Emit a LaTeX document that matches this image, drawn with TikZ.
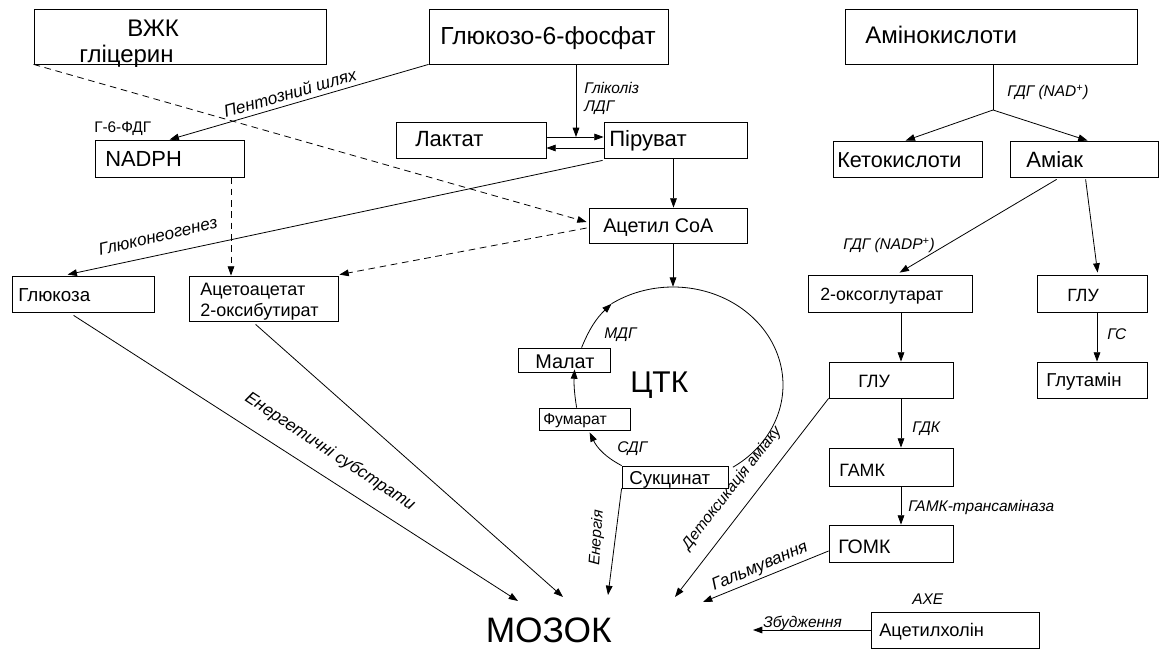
\documentclass[tikz,border=0pt]{standalone}
\usepackage{fontspec}
\setmainfont{Liberation Sans}
\usetikzlibrary{arrows.meta,fit,calc,shapes.geometric}
\newcommand{\myfs}[1]{\fontsize{#1}{#1}\selectfont}
\tikzset{
 box/.style={draw, line width=0.6pt, inner sep=0pt},
 ln/.style={line width=0.6pt},
 arr/.style={line width=0.6pt, -{Triangle[length=7pt,width=5pt]}},
 dsh/.style={arr, dash pattern=on 5pt off 3.5pt},
 txt/.style={inner sep=0pt, anchor=base west},
 lbl/.style={inner sep=0pt, anchor=base west, font=\myfs{11.6}\itshape},
 rlbl/.style={inner sep=0pt, font=\myfs{12.8}\itshape},
}
\begin{document}
\begin{tikzpicture}[x=0.75pt,y=-0.75pt]
\useasboundingbox (0,0) rectangle (1160,655);
% boxes
\node[box, fit={(34,9)(326,64)}] (vzhk) {};
\node[box, fit={(429,9)(668,64)}] (gluk6f) {};
\node[box, fit={(845,9)(1137,64)}] (amino) {};
\node[box, fit={(95,140)(244,177)}] (nadph) {};
\node[box, fit={(396,122)(546,158)}] (laktat) {};
\node[box, fit={(604,122)(747,158)}] (piruvat) {};
\node[box, fit={(589,208)(747,243)}] (acetyl) {};
\node[box, fit={(833,141)(982,177)}] (keto) {};
\node[box, fit={(1010,141)(1158,177)}] (amiak) {};
\node[box, fit={(12,276)(154,312)}] (glukoza) {};
\node[box, fit={(189,276)(338,321)}] (acetoac) {};
\node[box, fit={(808,275)(972,312)}] (oxoglut) {};
\node[box, fit={(1037,275)(1147,312)}] (glur) {};
\node[box, fit={(1037,362)(1147,398)}] (glutamin) {};
\node[box, fit={(829,362)(953,398)}] (glum) {};
\node[box, fit={(829,448)(953,486)}] (gamk) {};
\node[box, fit={(829,525)(953,562)}] (gomk) {};
\node[box, fit={(871,612)(1039,648)}] (achol) {};
\node[box, fit={(518,348)(610,372)}] (malat) {};
\node[box, fit={(539,408)(630,430)}] (fumarat) {};
\node[box, fit={(622,466)(728,488)}] (sukcinat) {};
\node[ellipse, minimum width=165pt, minimum height=147pt, inner sep=0pt] (tca) at (673,385) {};
% box texts
\node[txt, font=\myfs{18}] (t1) at (127,37) {ВЖК};
\node[txt, font=\myfs{18}] (t2) at (79,63) {гліцерин};
\node[txt, font=\myfs{18.5}] (t3) at (440,45) {Глюкозо-6-фосфат};
\node[txt, font=\myfs{18}] (t4) at (865,44) {Амінокислоти};
\node[txt, font=\myfs{16.4}] (t5) at (105,167) {NADPH};
\node[txt, font=\myfs{11.5}] (t6) at (94,133) {Г-6-ФДГ};
\node[txt, font=\myfs{16.5}] (t7) at (415,147) {Лактат};
\node[txt, font=\myfs{16.6}] (t8) at (609,147) {Піруват};
\node[txt, font=\myfs{14.8}] (t9) at (603,233) {Ацетил CoA};
\node[txt, font=\myfs{16.2}] (t10) at (837,168) {Кетокислоти};
\node[txt, font=\myfs{16.6}] (t11) at (1026,168) {Аміак};
\node[txt, font=\myfs{13.3}] (t12) at (820,301) {2-оксоглутарат};
\node[txt, font=\myfs{13.3}] (t13) at (1067,302) {ГЛУ};
\node[txt, font=\myfs{14}] (t14) at (1046,387) {Глутамін};
\node[txt, font=\myfs{13.4}] (t15) at (858,388) {ГЛУ};
\node[txt, font=\myfs{13.4}] (t16) at (839,477) {ГАМК};
\node[txt, font=\myfs{14.6}] (t17) at (838,553) {ГОМК};
\node[txt, font=\myfs{13.7}] (t18) at (879,636) {Ацетилхолін};
\node[txt, font=\myfs{14.9}] (t19) at (535,369) {Малат};
\node[txt, font=\myfs{11.8}] (t20) at (543,425) {Фумарат};
\node[txt, font=\myfs{14}] (t21) at (629,484) {Сукцинат};
\node[txt, font=\myfs{14.1}] (t22) at (18,302) {Глюкоза};
\node[txt, font=\myfs{13.5}] (t23) at (200,296) {Ацетоацетат};
\node[txt, font=\myfs{13.5}] (t24) at (200,317) {2-оксибутират};
\node[txt, font=\myfs{22.5}] (t25) at (630,393) {ЦТК};
\node[inner sep=0pt, anchor=base east, font=\myfs{26.5}] (brain) at (612,642) {МОЗОК};
% small labels
\node[lbl] (l1) at (584,94) {Гліколіз};
\node[lbl] (l2) at (584,112) {ЛДГ};
\node[lbl] (l3) at (1007,97) {ГДГ (NAD\textsuperscript{+})};
\node[lbl] (l4) at (843,250) {ГДГ (NADP\textsuperscript{+})};
\node[lbl] (l5) at (1107,340) {ГС};
\node[lbl] (l6) at (912,433) {ГДК};
\node[lbl] (l7) at (908,512) {ГАМК-трансаміназа};
\node[lbl] (l8) at (912,604) {АХЕ};
\node[lbl] (l9) at (763,627) {Збудження};
\node[lbl] (l10) at (604,339) {МДГ};
\node[lbl] (l11) at (617,453) {СДГ};
\node[rlbl, rotate=16] (r1) at (290,93) {Пентозний шлях};
\node[rlbl, rotate=13] (r2) at (158,236) {Глюконеогенез};
\node[rlbl, rotate=-33.5] (r3) at (330,452) {Енергетичні субстрати};
\node[rlbl, rotate=52, font=\myfs{11.6}\itshape] (r4) at (732,488) {Детоксикація аміаку};
\node[rlbl, rotate=23] (r5) at (760,567) {Гальмування};
\node[rlbl, rotate=86, font=\myfs{11.6}\itshape] (r6) at (597,538) {Енергія};
% coordinates
\coordinate (glyc) at (576,137);
\coordinate (back) at (0,148);
\coordinate (pa) at ($(piruvat.south)+(-2,0)$);
\coordinate (xd) at (231,0);
\coordinate (br) at (993,110);
\coordinate (xg) at (1097,0);
\coordinate (xm) at (901,0);
\coordinate (m1) at (703,602);
\coordinate (m2) at (753,630);
\coordinate (m3) at (675,597);
\coordinate (m4) at (608,595);
\coordinate (m5) at (518,601);
\coordinate (m6) at (563,597);
\coordinate (mdg) at (611.5,303.8);
% connectors
\draw[arr] (gluk6f.south west) -- ($(nadph.north west)+(75,0)$);
\draw[arr] (gluk6f.south -| glyc) -- (glyc);
\draw[arr] (laktat.east |- glyc) -- (piruvat.west |- glyc);
\draw[arr] (piruvat.west |- back) -- (laktat.east |- back);
\draw[arr] (pa) -- (pa |- acetyl.north);
\draw[arr] ($(piruvat.south west)+(-1,2)$) -- ($(glukoza.north west)+(56,-1)$);
\draw[dsh] (vzhk.south west) -- ($(acetyl.west)+(-2,-3.5)$);
\draw[dsh] ($(acetyl.west)+(-2,2.5)$) -- ($(acetoac.north east)+(1,-1)$);
\draw[dsh] (nadph.south -| xd) -- (acetoac.north -| xd);
\draw[arr] (acetyl.south -| tca.north) -- (tca.north);
% cycle
\draw[ln] plot[domain=124:-57, samples=90, smooth] ({673+110*cos(\x)},{385-98*sin(\x)});
\draw[arr] ($(malat.north west)+(64,0)$) to[bend left=12] (mdg);
\draw[arr] ($(fumarat.north west)+(38,0)$) to[bend left=6] ($(malat.south west)+(57,-3)$);
\draw[arr] (sukcinat.north west) to[bend left=18] ($(fumarat.south west)+(51,2)$);
% amino side
\draw[ln] (amino.south -| br) -- (br);
\draw[arr] (br) -- ($(keto.north west)+(73,0)$);
\draw[arr] (br) -- ($(amiak.north west)+(78,0)$);
\draw[arr] ($(amiak.south west)+(47,2)$) -- ($(oxoglut.north west)+(92,-2)$);
\draw[arr] ($(amiak.south west)+(76,2)$) -- ($(glur.north west)+(61,-2)$);
\draw[arr] (glur.south -| xg) -- (glutamin.north -| xg);
\draw[arr] (oxoglut.south -| xm) -- (glum.north -| xm);
\draw[arr] (glum.south -| xm) -- (gamk.north -| xm);
\draw[arr] (gamk.south -| xm) -- (gomk.north -| xm);
% to brain
\draw[arr] ($(gomk.west)+(0,7.5)$) -- (m1);
\draw[arr] (achol.west) -- (m2);
\draw[arr] (glum.south west) -- (m3);
\draw[arr] (sukcinat.south west) -- (m4);
\draw[arr] ($(glukoza.south west)+(62,3)$) -- (m5);
\draw[arr] ($(acetoac.south west)+(67,3)$) -- (m6);
\end{tikzpicture}
\end{document}
